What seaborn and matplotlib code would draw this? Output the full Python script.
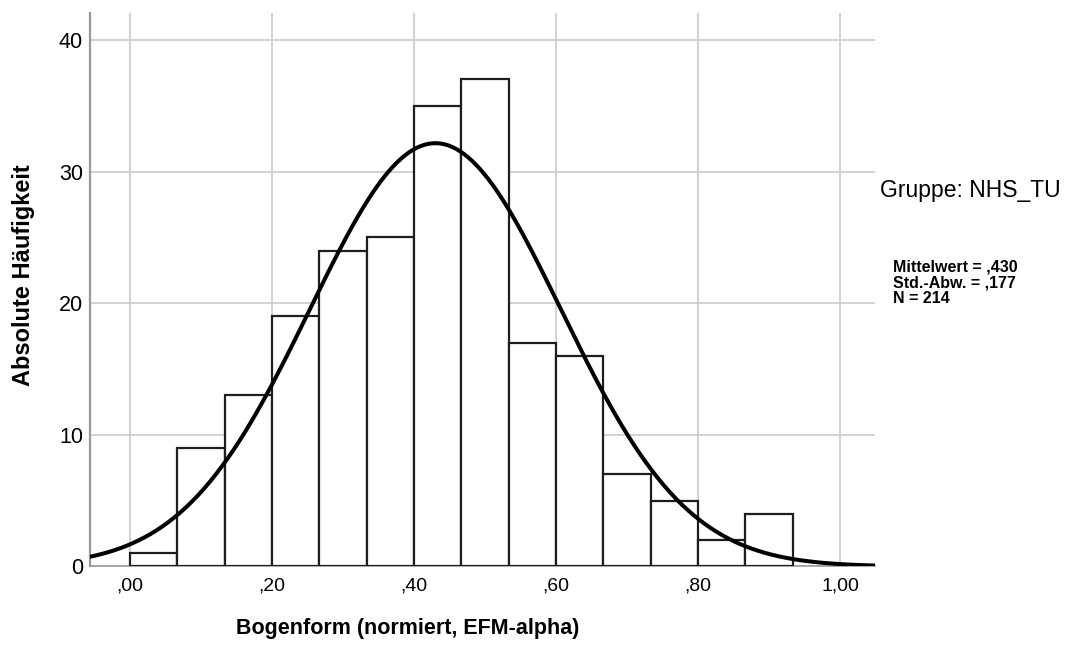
import numpy as np
import pandas as pd
import matplotlib
matplotlib.use("Agg")
import matplotlib.pyplot as plt
import seaborn as sns

# Data
bin_width = 1 / 15
bin_starts = [0.0, 1/15, 2/15, 3/15, 4/15, 5/15, 6/15, 7/15, 8/15, 9/15, 10/15, 11/15, 12/15, 13/15]
counts = [1, 9, 13, 19, 24, 25, 35, 37, 17, 16, 7, 5, 2, 4]
mean_val = 0.430
sd_val = 0.177
n_val = 214
x_ticks = [0.0, 0.2, 0.4, 0.6, 0.8, 1.0]
x_ticklabels = [",00", ",20", ",40", ",60", ",80", "1,00"]
y_ticks = [0, 10, 20, 30, 40]

sns.set_theme(style="white")
plt.rcParams["font.family"] = ["Liberation Sans", "DejaVu Sans"]
plt.rcParams["text.color"] = "black"
plt.rcParams["axes.labelcolor"] = "black"

fig = plt.figure(figsize=(10.69, 6.5), dpi=100)
ax_left, ax_bottom, ax_w, ax_h = 0.0842, 0.1285, 0.7343, 0.852
ax = fig.add_axes([ax_left, ax_bottom, ax_w, ax_h])

df = pd.DataFrame({"x": [s + bin_width / 2 for s in bin_starts], "w": counts})
edges = [s for s in bin_starts] + [bin_starts[-1] + bin_width]
sns.histplot(data=df, x="x", weights="w", bins=edges, ax=ax,
             color="white", edgecolor="#1e1e1e", linewidth=1.6, alpha=1, zorder=3)

xs = np.linspace(-0.06, 1.049, 400)
ys = n_val * bin_width / (sd_val * np.sqrt(2 * np.pi)) * np.exp(-0.5 * ((xs - mean_val) / sd_val) ** 2)
sns.lineplot(x=xs, y=ys, ax=ax, color="black", linewidth=2.9, zorder=4)

ax.set_xlim(-0.0563, 1.049)
ax.set_ylim(0, 42.07)
ax.set_xticks(x_ticks)
ax.set_xticklabels(x_ticklabels)
ax.set_yticks(y_ticks)
ax.grid(True, color="#cfcfcf", linewidth=1.3, zorder=0)
ax.set_axisbelow(True)
ax.tick_params(axis="x", labelsize=14, length=0, pad=8, colors="black")
ax.tick_params(axis="y", labelsize=15.5, length=0, pad=5, colors="black")

for side in ["top", "right"]:
    ax.spines[side].set_visible(False)
ax.spines["left"].set_color("#999999")
ax.spines["left"].set_linewidth(1.6)
ax.spines["bottom"].set_color("#999999")
ax.spines["bottom"].set_linewidth(1.2)

ax.set_xlabel("Bogenform (normiert, EFM-alpha)", fontsize=15.5, fontweight="bold")
ax.set_ylabel("Absolute Häufigkeit", fontsize=17, fontweight="bold")
# label positions in axes coordinates (converted from pixel positions)
W, H = 1069, 650
ax_px_left, ax_px_w = ax_left * W, ax_w * W
ax_px_top = (1 - ax_bottom - ax_h) * H
ax_px_h = ax_h * H
ax.xaxis.set_label_coords((408 - ax_px_left) / ax_px_w, 1 - (628 - ax_px_top) / ax_px_h)
ax.xaxis.label.set_va("center")
ax.yaxis.set_label_coords((24 - ax_px_left) / ax_px_w, 1 - (275 - ax_px_top) / ax_px_h)
ax.yaxis.label.set_va("center")

fig.text(880 / W, 1 - 190 / H, "Gruppe: NHS_TU", fontsize=16.5, ha="left", va="center")
fig.text(893 / W, 1 - 283 / H, "Mittelwert = ,430\nStd.-Abw. = ,177\nN = 214",
         fontsize=11.5, fontweight="bold", ha="left", va="center", linespacing=1.05)

fig.savefig("out.png", dpi=100, facecolor="white")
